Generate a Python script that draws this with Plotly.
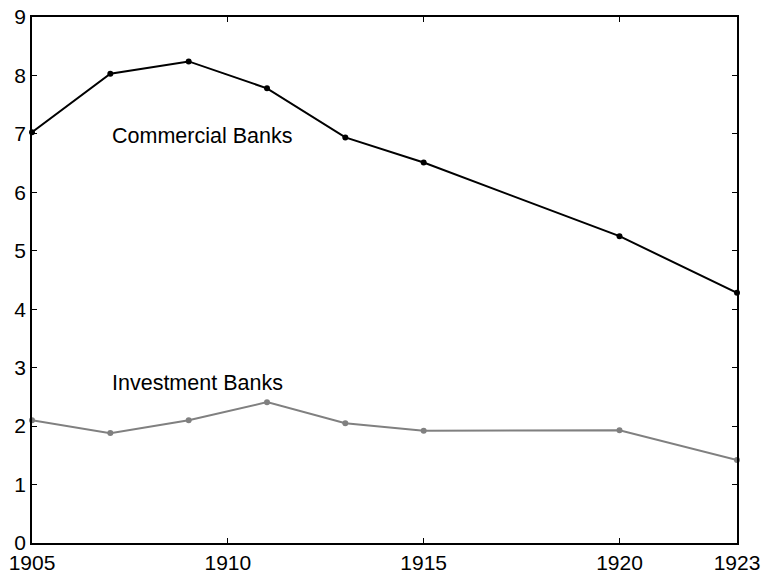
import plotly.graph_objects as go

years = [1905, 1907, 1909, 1911, 1913, 1915, 1920, 1923]
commercial = [7.03, 8.03, 8.24, 7.78, 6.94, 6.51, 5.25, 4.28]
investment = [2.10, 1.88, 2.10, 2.41, 2.05, 1.92, 1.93, 1.42]
x_ticks = [1905, 1910, 1915, 1920, 1923]
y_ticks = list(range(0, 10))

FONT = "Liberation Sans, Arial"

fig = go.Figure()
fig.add_trace(go.Scatter(x=years, y=commercial, mode="lines+markers",
                         line=dict(color="black", width=2),
                         marker=dict(color="black", size=6),
                         cliponaxis=False, showlegend=False))
fig.add_trace(go.Scatter(x=years, y=investment, mode="lines+markers",
                         line=dict(color="#808080", width=2),
                         marker=dict(color="#808080", size=6),
                         cliponaxis=False, showlegend=False))

fig.add_annotation(x=1907, y=6.97, text="Commercial Banks", showarrow=False,
                   xanchor="left", yanchor="middle",
                   font=dict(family=FONT, size=21.5, color="black"))
fig.add_annotation(x=1907, y=2.73, text="Investment Banks", showarrow=False,
                   xanchor="left", yanchor="middle",
                   font=dict(family=FONT, size=21.5, color="black"))

axis_common = dict(showgrid=False, zeroline=False, showline=True, linecolor="black",
                   linewidth=1.5, mirror="ticks", ticks="inside", ticklen=5,
                   tickcolor="black", tickwidth=1, automargin=False,
                   ticklabeloverflow="allow",
                   tickfont=dict(family=FONT, size=21, color="black"))
fig.update_xaxes(range=[1905, 1923], tickvals=x_ticks, ticktext=[str(v) for v in x_ticks],
                 **axis_common)
fig.update_yaxes(range=[0, 9], tickvals=y_ticks, ticktext=[str(v) for v in y_ticks],
                 **axis_common)

fig.update_layout(width=762, height=571, plot_bgcolor="white", paper_bgcolor="white",
                  margin=dict(l=32, r=25, t=17, b=28))
fig.write_html("out.html", config={"displayModeBar": False},
               post_script="document.body.style.margin='0';document.body.style.overflow='hidden';")
